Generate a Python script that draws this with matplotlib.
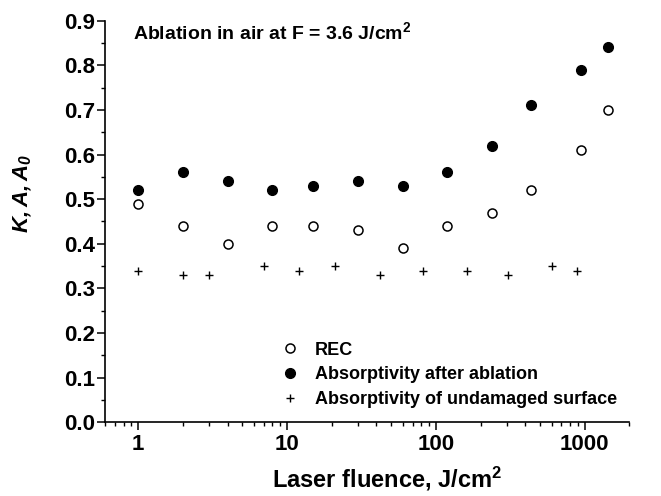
import matplotlib.pyplot as plt
from matplotlib.ticker import MultipleLocator, FixedLocator, NullFormatter

plt.rcParams['font.family'] = ['Liberation Sans', 'DejaVu Sans']
plt.rcParams['font.weight'] = 'bold'
plt.rcParams['mathtext.fontset'] = 'custom'
plt.rcParams['mathtext.rm'] = 'Liberation Sans:bold'
plt.rcParams['mathtext.bf'] = 'Liberation Sans:bold'
plt.rcParams['mathtext.it'] = 'Liberation Sans:bold:italic'
plt.rcParams['mathtext.bfit'] = 'Liberation Sans:bold:italic'

# REC and absorptivity after ablation share fluence values
fluence = [1, 2, 4, 8, 15, 30, 60, 120, 240, 440, 940, 1440]
rec = [0.49, 0.44, 0.40, 0.44, 0.44, 0.43, 0.39, 0.44, 0.47, 0.52, 0.61, 0.70]
absorb_after = [0.52, 0.56, 0.54, 0.52, 0.53, 0.54, 0.53, 0.56, 0.62, 0.71, 0.79, 0.84]

fluence_und = [1, 2, 3, 7, 12, 21, 42, 82, 163, 304, 600, 890]
absorb_und = [0.34, 0.33, 0.33, 0.35, 0.34, 0.35, 0.33, 0.34, 0.34, 0.33, 0.35, 0.34]

fig = plt.figure(figsize=(6.61, 4.96), dpi=100)
ax = fig.add_axes([0.1589, 0.1486, 0.7932, 0.8097])

ax.plot(fluence, rec, 'o', mfc='white', mec='black', mew=1.1, ms=6.5, ls='none', label='REC')
ax.plot(fluence, absorb_after, 'o', color='black', ms=7, ls='none', label='Absorptivity after ablation')
ax.plot(fluence_und, absorb_und, '+', color='black', ms=5.5, mew=1.0, ls='none',
        label='Absorptivity of undamaged surface')

ax.set_xscale('log')
ax.set_xlim(0.6, 2000)
ax.set_ylim(0, 0.9)
ax.yaxis.set_major_locator(MultipleLocator(0.1))
ax.yaxis.set_minor_locator(MultipleLocator(0.05))
ax.set_xticks([1, 10, 100, 1000])
ax.set_xticklabels(['1', '10', '100', '1000'])
minors = [m * 10 ** e for e in range(-1, 4) for m in range(2, 10)]
ax.xaxis.set_minor_locator(FixedLocator(minors))
ax.xaxis.set_minor_formatter(NullFormatter())

for s in ['top', 'right']:
    ax.spines[s].set_visible(False)
for s in ['left', 'bottom']:
    ax.spines[s].set_linewidth(1.2)

ax.tick_params(which='major', direction='out', length=5.5, width=1.1, labelsize=16, pad=1.5)
ax.tick_params(axis='x', which='major', pad=3)
ax.tick_params(which='minor', direction='out', length=3, width=1.0)
for lab in ax.get_xticklabels() + ax.get_yticklabels():
    lab.set_fontweight('bold')

ax.set_xlabel('Laser fluence, J/cm$^2$', fontsize=17, fontweight='bold')
ax.xaxis.set_label_coords(0.538, -0.105)
ax.set_ylabel('$\\mathbfit{K, A, A_0}$', fontsize=16)
ax.yaxis.set_label_coords(-0.135, 0.571)

ax.text(0.053, 0.972, 'Ablation in air at F = 3.6 J/cm$^2$', transform=ax.transAxes,
        fontsize=14, fontweight='bold', va='center', ha='left')

ax.legend(loc='lower left', bbox_to_anchor=(0.305, 0.0), frameon=False, fontsize=13,
          handletextpad=0.75, labelspacing=0.42, handlelength=1.2, borderpad=0.3)

fig.savefig('out.png', dpi=100)
